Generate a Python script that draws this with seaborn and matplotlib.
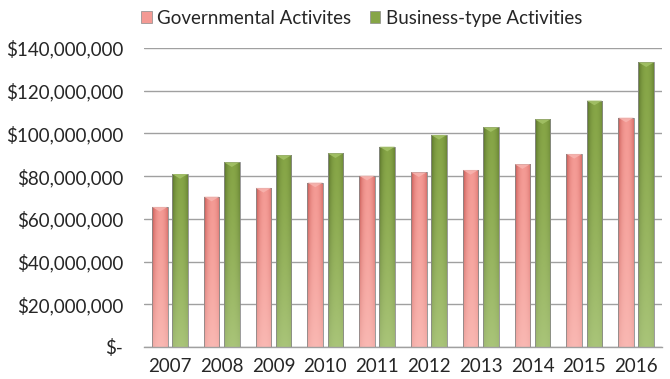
import numpy as np
import pandas as pd
import matplotlib
matplotlib.use("Agg")
import matplotlib.pyplot as plt
from matplotlib.patches import Rectangle, Polygon
from matplotlib.colors import to_rgb
import matplotlib.ticker as mticker
import seaborn as sns

years = ["2007", "2008", "2009", "2010", "2011", "2012", "2013", "2014", "2015", "2016"]
governmental = [65.6e6, 70.4e6, 74.5e6, 77.0e6, 80.2e6, 81.8e6, 82.9e6, 85.6e6, 90.4e6, 107.4e6]
business = [81.0e6, 86.5e6, 89.8e6, 90.7e6, 93.8e6, 99.3e6, 102.9e6, 106.6e6, 115.4e6, 133.3e6]
series = ["Governmental Activites", "Business-type Activities"]

df = pd.DataFrame({
    "year": years * 2,
    "value": governmental + business,
    "series": [series[0]] * len(years) + [series[1]] * len(years),
})

sns.set_theme(style="white")
plt.rcParams["font.family"] = ["Lato", "DejaVu Sans"]

fig = plt.figure(figsize=(6.7, 3.79), dpi=100)
ax = fig.add_axes([144 / 670, 1 - 347 / 379, (662 - 144) / 670, (347 - 48) / 379])

palette = {series[0]: "#E8706B", series[1]: "#6E8F33"}
sns.barplot(data=df, x="year", y="value", hue="series", palette=palette,
            width=0.78, ax=ax, legend=False, saturation=1, zorder=3)

# shading ramps per series: (dark edge, bright core, light bottom)
shades = {
    0: ("#B8413C", "#F49A94", "#FBC2BD"),
    1: ("#48601E", "#86A546", "#B5CF8A"),
}


def gradient_image(dark, bright, light, nx=40, ny=120):
    d, b, l = (np.array(to_rgb(c)) for c in (dark, bright, light))
    xs = np.linspace(0, 1, nx)
    # cylinder-like horizontal profile, brightest slightly right of centre
    prof = np.clip(1 - ((xs - 0.55) / 0.55) ** 2, 0, 1) ** 0.6
    row = d[None, :] * (1 - prof[:, None]) + b[None, :] * prof[:, None]
    ys = np.linspace(0, 1, ny)[:, None, None]  # 0 = top, 1 = bottom
    t = ys ** 1.3 * 0.75
    img = row[None, :, :] * (1 - t) + l[None, None, :] * t
    return img


n = len(years)
patches = list(ax.patches)
for i, p in enumerate(patches):
    s = i // n
    x0, w, h = p.get_x(), p.get_width(), p.get_height()
    shrink = 0.045
    x0 += shrink
    w -= 2 * shrink
    p.set_x(x0)
    p.set_width(w)
    p.set_facecolor("none")
    p.set_edgecolor("#8a8a8a")
    p.set_linewidth(0.6)
    img = gradient_image(*shades[s])
    im = ax.imshow(img, extent=[x0, x0 + w, 0, h], aspect="auto",
                   origin="upper", zorder=2.5, interpolation="bilinear")
    im.set_clip_path(p)
    # bevelled cap at the top of each bar
    cap_h = 2.2e6
    cap_col = "#F7B3AE" if s == 0 else "#A3C166"
    cap = Polygon([[x0, h], [x0 + w, h], [x0 + w * 0.5, h - cap_h]],
                  closed=True, facecolor=cap_col, edgecolor="none", zorder=3.5, alpha=0.9)
    ax.add_patch(cap)

ax.set_xlim(-0.5, n - 0.5)
ax.set_ylim(0, 140e6)
ax.set_yticks(np.arange(0, 140e6 + 1, 20e6))


def money(v, _):
    if v == 0:
        return "$-"
    return "${:,.0f}".format(v)


ax.yaxis.set_major_formatter(mticker.FuncFormatter(money))
ax.grid(axis="y", color="#a0a0a0", linewidth=1.0, zorder=0)
ax.set_axisbelow(True)
for side in ("left", "right", "top"):
    ax.spines[side].set_visible(False)
ax.spines["bottom"].set_color("#a0a0a0")
ax.spines["bottom"].set_linewidth(1.0)
ax.tick_params(axis="both", length=0, labelsize=13.5, colors="#262626")
ax.tick_params(axis="y", pad=15)
ax.tick_params(axis="x", pad=8)
ax.set_xlabel("")
ax.set_ylabel("")

handles = [Rectangle((0, 0), 1, 1, facecolor=shades[k][1], edgecolor="#8a8a8a", linewidth=0.5)
           for k in range(2)]
fig.legend(handles, series, loc="center", bbox_to_anchor=(0.54, 0.952), ncol=2,
           frameon=False, fontsize=13.5, handlelength=0.55, handleheight=0.55,
           handletextpad=0.3, columnspacing=1.0, labelcolor="#262626")

fig.savefig("out.png", dpi=100)
